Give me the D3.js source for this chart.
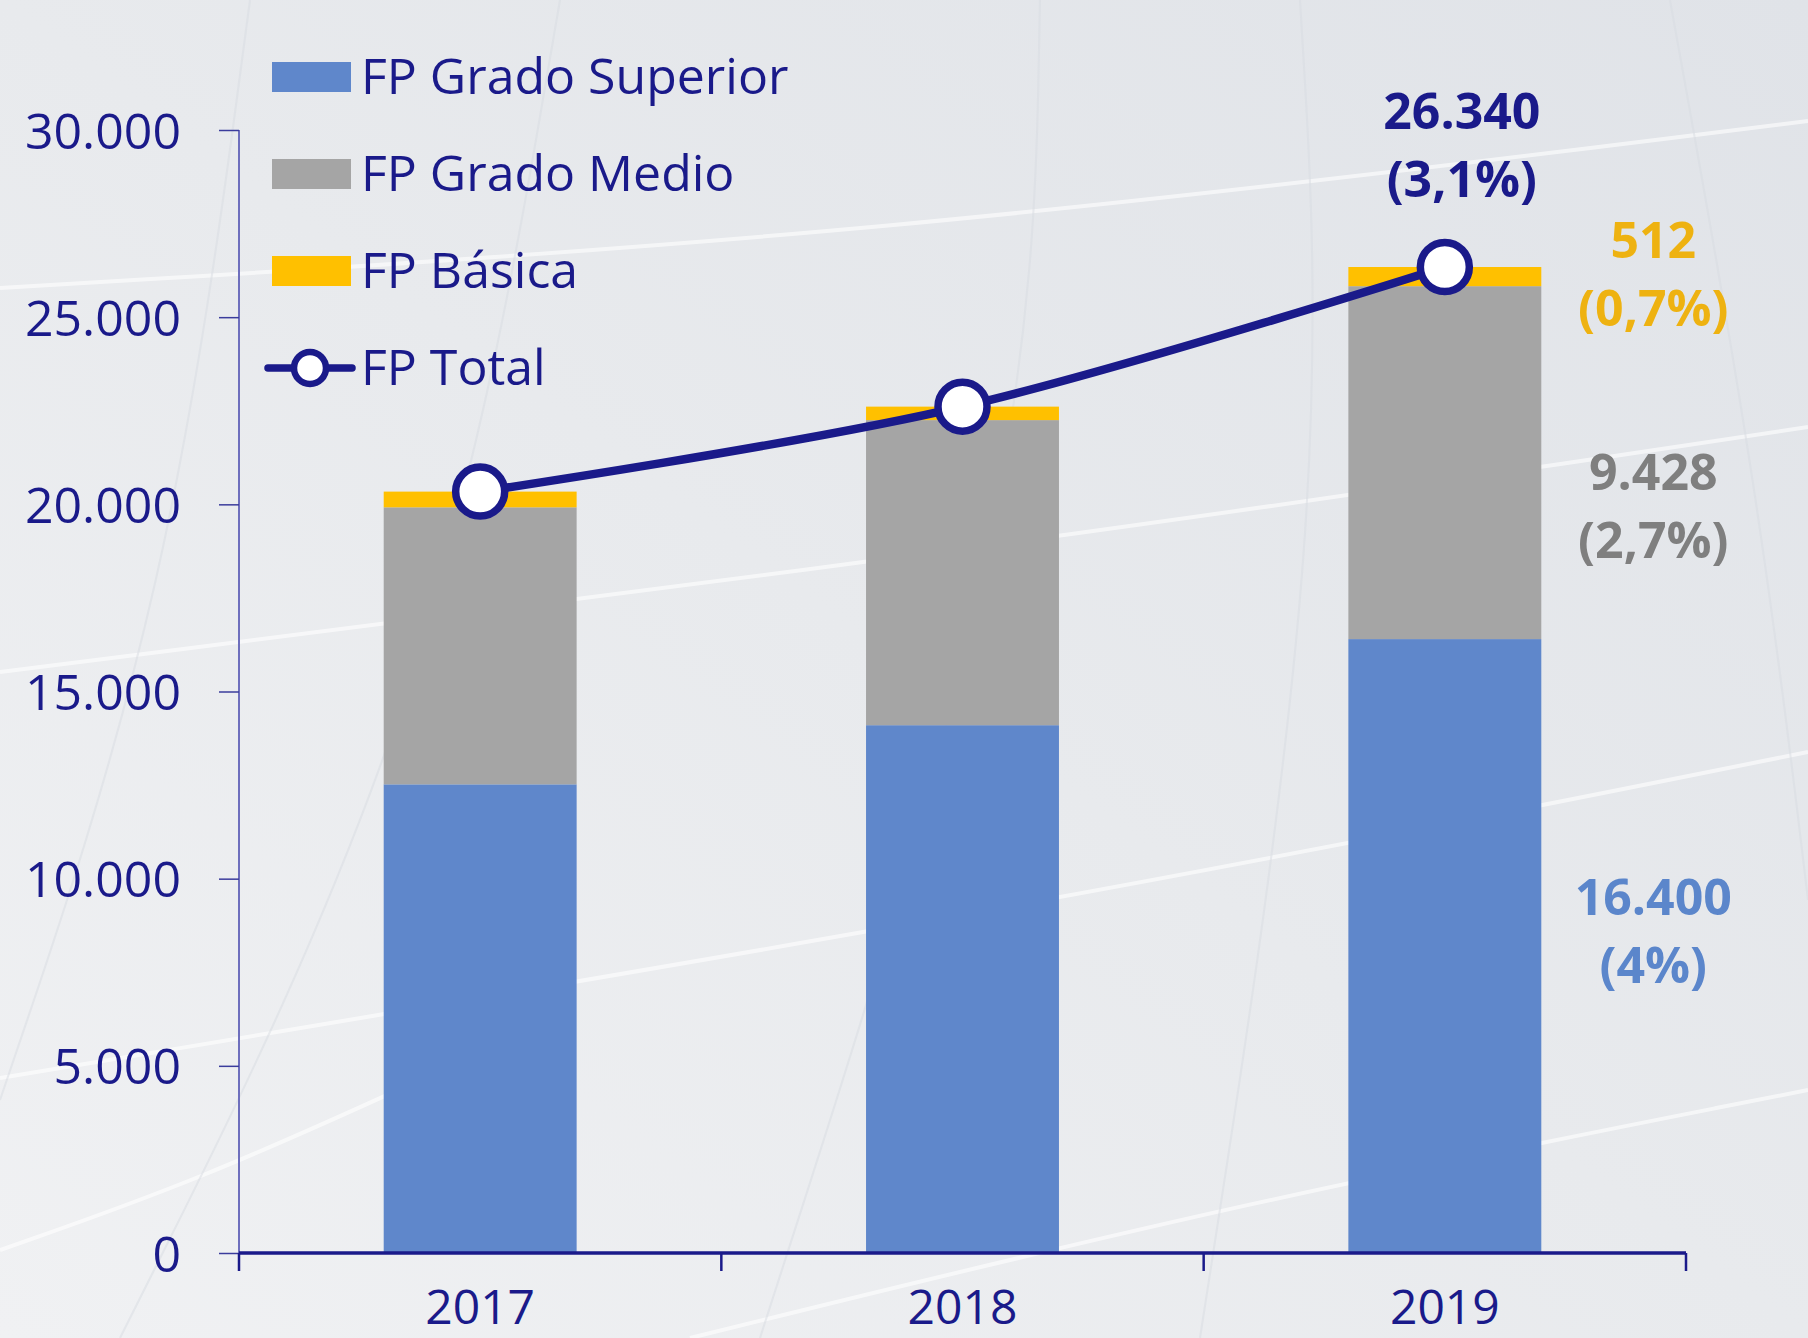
<!DOCTYPE html>
<html>
<head>
<meta charset="utf-8">
<script src="https://cdn.jsdelivr.net/npm/d3@7"></script>
<style>
  html, body { margin: 0; padding: 0; background: #e7e9ed; }
  svg { display: block; font-family: "Open Sans", "Noto Sans", sans-serif; }
</style>
</head>
<body>
<svg id="chart" width="1808" height="1338"></svg>
<script>
// ---- data ----
var years = ["2017", "2018", "2019"];
var seriesNames = ["FP Grado Superior", "FP Grado Medio", "FP Básica"];
var gradoSuperior = [12520, 14100, 16400];
var gradoMedio = [7400, 8150, 9428];
var basica = [420, 360, 512];
var fpTotal = [20340, 22610, 26340];
var yTicks = [0, 5000, 10000, 15000, 20000, 25000, 30000];
// growth of the last year, in %
var seriesGrowth = [4, 2.7, 0.7];
var totalGrowth = 3.1;

// ---- styles ----
var colors = ["#5F87CB", "#A5A5A5", "#FFC000"];
var labelColors = ["#5B86CB", "#7F7F7F", "#EEB211"];
var navy = "#1A1A8A";
var font = '"Open Sans", "Noto Sans", sans-serif';

var es = d3.formatLocale({decimal: ",", thousands: ".", grouping: [3], currency: ["", " €"]});
var fmt = es.format(",");
function pct(v) { return "(" + String(v).replace(".", ",") + "%)"; }

var svg = d3.select("#chart");
var W = 1808, H = 1338;

// background
var defs = svg.append("defs");
var grad = defs.append("linearGradient").attr("id", "bg")
    .attr("x1", 0).attr("y1", 1).attr("x2", 1).attr("y2", 0);
grad.append("stop").attr("offset", 0).attr("stop-color", "#f0f1f3");
grad.append("stop").attr("offset", 0.5).attr("stop-color", "#e8eaed");
grad.append("stop").attr("offset", 1).attr("stop-color", "#e0e3e8");
svg.append("rect").attr("width", W).attr("height", H).attr("fill", "url(#bg)");

// decorative sweeping lines of the slide background
var deco = svg.append("g").attr("fill", "none");
var sweep = d3.line().curve(d3.curveBasis);
[
  [[0, 288], [880, 236], [1808, 121]],
  [[0, 672], [1040, 542], [1808, 427]],
  [[0, 1078], [1060, 902], [1808, 752]],
  [[690, 1338], [1250, 1200], [1808, 1090]],
  [[0, 1250], [200, 1180], [420, 1080]]
].forEach(function(p) {
  deco.append("path").attr("d", sweep(p))
      .attr("stroke", "#ffffff").attr("stroke-opacity", 0.6).attr("stroke-width", 4);
});
[
  [[250, 0], [170, 600], [0, 1100]],
  [[560, 0], [440, 700], [120, 1338]],
  [[1040, 0], [1030, 500], [760, 1338]],
  [[1300, 0], [1330, 500], [1200, 1338]],
  [[1670, 0], [1760, 500], [1808, 900]]
].forEach(function(p) {
  deco.append("path").attr("d", sweep(p))
      .attr("stroke", "#d8dbe1").attr("stroke-opacity", 0.5).attr("stroke-width", 2);
});

// ---- scales ----
var x = d3.scaleBand().domain(years).range([239, 1686]).paddingInner(0.6).paddingOuter(0.3);
var y = d3.scaleLinear().domain([0, 30000]).range([1253, 130]);

// ---- stacked bars ----
var rows = years.map(function(yr, i) {
  return {year: yr, s0: gradoSuperior[i], s1: gradoMedio[i], s2: basica[i]};
});
var stacked = d3.stack().keys(["s0", "s1", "s2"])(rows);

svg.append("g").selectAll("g")
  .data(stacked)
  .enter().append("g")
    .attr("fill", function(d, i) { return colors[i]; })
  .selectAll("rect")
  .data(function(d) { return d; })
  .enter().append("rect")
    .attr("x", function(d) { return x(d.data.year); })
    .attr("y", function(d) { return y(d[1]); })
    .attr("width", x.bandwidth())
    .attr("height", function(d) { return y(d[0]) - y(d[1]); });

// ---- axes ----
var yAxis = svg.append("g")
    .attr("transform", "translate(239,0)")
    .call(d3.axisLeft(y).tickValues(yTicks).tickFormat(fmt).tickSize(20).tickPadding(38))
    .attr("font-family", font).attr("font-size", 50);
yAxis.select(".domain").attr("stroke", "#6E6FBD").attr("stroke-width", 2).attr("d", "M0," + y(30000) + "V" + y(0));
yAxis.selectAll(".tick line").attr("stroke", "#3B3C9C").attr("stroke-width", 1.5);
yAxis.selectAll(".tick text").attr("fill", navy).attr("dy", "0.36em");

var step = x.step();
var xb = svg.append("g").attr("transform", "translate(0," + y(0) + ")");
xb.append("line").attr("x1", x.range()[0]).attr("x2", x.range()[1])
    .attr("stroke", navy).attr("stroke-width", 3.5);
xb.selectAll(".bt").data(d3.range(years.length + 1)).enter().append("line")
    .attr("x1", function(i) { return x.range()[0] + i * step; })
    .attr("x2", function(i) { return x.range()[0] + i * step; })
    .attr("y1", 0).attr("y2", 18)
    .attr("stroke", navy).attr("stroke-width", 2.5);
xb.selectAll(".yl").data(years).enter().append("text")
    .attr("x", function(d) { return x(d) + x.bandwidth() / 2; })
    .attr("y", 71)
    .attr("text-anchor", "middle")
    .attr("fill", navy).attr("font-size", 48)
    .text(function(d) { return d; });

// ---- total line ----
var cx = function(i) { return x(years[i]) + x.bandwidth() / 2; };
var line = d3.line()
    .x(function(d, i) { return cx(i); })
    .y(function(d) { return y(d); })
    .curve(d3.curveCardinal);
svg.append("path").datum(fpTotal)
    .attr("d", line)
    .attr("fill", "none").attr("stroke", navy).attr("stroke-width", 8.5);
svg.selectAll(".mk").data(fpTotal).enter().append("circle")
    .attr("cx", function(d, i) { return cx(i); })
    .attr("cy", function(d) { return y(d); })
    .attr("r", 24.5)
    .attr("fill", "#ffffff").attr("stroke", navy).attr("stroke-width", 7.5);

// ---- labels for the last year ----
var last = years.length - 1;
var tl = svg.append("g").attr("text-anchor", "middle").attr("font-weight", 700)
    .attr("font-size", 50).attr("fill", navy);
tl.append("text").attr("x", cx(last) + 17).attr("y", y(fpTotal[last]) - 138).text(fmt(fpTotal[last]));
tl.append("text").attr("x", cx(last) + 17).attr("y", y(fpTotal[last]) - 70).text(pct(totalGrowth));

var labelShift = [-31, 27, -19];
var segX = x(years[last]) + x.bandwidth() + 112;
stacked.forEach(function(s, i) {
  var seg = s[last];
  var mid = (y(seg[0]) + y(seg[1])) / 2 + labelShift[i];
  var g = svg.append("g").attr("text-anchor", "middle").attr("font-weight", 700)
      .attr("font-size", 50).attr("fill", labelColors[i]);
  g.append("text").attr("x", segX).attr("y", mid).text(fmt(seg[1] - seg[0]));
  g.append("text").attr("x", segX).attr("y", mid + 68).text(pct(seriesGrowth[i]));
});

// ---- legend ----
var legend = svg.append("g").attr("font-size", 50).attr("fill", navy);
var legItems = seriesNames.concat(["FP Total"]);
var leg = legend.selectAll("g").data(legItems).enter().append("g")
    .attr("transform", function(d, i) { return "translate(0," + (77 + i * 97) + ")"; });
leg.filter(function(d, i) { return i < 3; }).append("rect")
    .attr("x", 272).attr("y", -15).attr("width", 79).attr("height", 30)
    .attr("fill", function(d, i) { return colors[i]; });
var legLine = leg.filter(function(d, i) { return i === 3; });
legLine.append("line").attr("x1", 268).attr("x2", 352).attr("y1", 0).attr("y2", 0)
    .attr("stroke", navy).attr("stroke-width", 7.5).attr("stroke-linecap", "round");
legLine.append("circle").attr("cx", 310).attr("cy", 0).attr("r", 16)
    .attr("fill", "#ffffff").attr("stroke", navy).attr("stroke-width", 6.5);
leg.append("text").attr("x", 361).attr("y", 17).text(function(d) { return d; });
</script>
</body>
</html>
